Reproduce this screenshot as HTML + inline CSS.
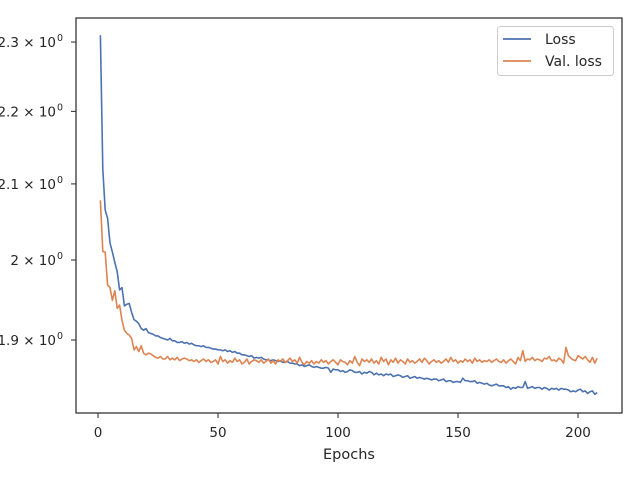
<!DOCTYPE html>
<html><head><meta charset="utf-8"><style>
html,body{margin:0;padding:0;background:#fff;}
svg{display:block;font-family:"DejaVu Sans","Liberation Sans",sans-serif;}
</style></head><body>
<svg id="chart" width="640" height="480" viewBox="0 0 640 480">
<rect x="0" y="0" width="640" height="480" fill="#fff"/>
<g id="plot"></g>
<rect x="76" y="18" width="546" height="395" fill="none" stroke="#262626" stroke-width="1.2"/>
<g id="xticks"></g>
<g id="yticks"></g>
<text x="349" y="459" text-anchor="middle" font-size="14.5" fill="#262626">Epochs</text>
<g>
<rect x="497.5" y="26.5" width="116" height="49" rx="3" fill="#fff" fill-opacity="0.8" stroke="#ccc"/>
<g>
<line x1="503" y1="39" x2="531" y2="39" stroke="#4c72b0" stroke-width="1.8"/>
<text x="545" y="44" font-size="14" fill="#262626">Loss</text>
</g>
<g>
<line x1="503" y1="61" x2="531" y2="61" stroke="#dd8452" stroke-width="1.8"/>
<text x="545" y="66" font-size="14" fill="#262626">Val. loss</text>
</g>
</g>
</svg>
<script>
const lossValues=[2.310,2.120,2.065,2.054,2.022,2.010,1.997,1.985,1.962,1.965,
1.942,1.944,1.945,1.934,1.925,1.923,1.920,1.914,1.912,1.914,
1.909,1.908,1.907,1.905,1.905,1.903,1.902,1.901,1.900,1.902,
1.899,1.899,1.897,1.897,1.898,1.896,1.897,1.895,1.896,1.894,
1.893,1.893,1.892,1.893,1.891,1.891,1.890,1.889,1.889,1.888,
1.888,1.887,1.888,1.886,1.887,1.885,1.886,1.884,1.884,1.882,
1.882,1.881,1.880,1.881,1.878,1.879,1.878,1.879,1.877,1.876,
1.876,1.875,1.876,1.875,1.874,1.875,1.873,1.873,1.874,1.872,
1.872,1.871,1.871,1.869,1.870,1.868,1.869,1.870,1.868,1.867,
1.868,1.867,1.866,1.866,1.867,1.866,1.861,1.865,1.864,1.864,
1.862,1.863,1.861,1.862,1.864,1.863,1.861,1.861,1.862,1.859,
1.861,1.860,1.862,1.861,1.858,1.860,1.858,1.859,1.857,1.859,
1.858,1.859,1.856,1.857,1.858,1.857,1.855,1.856,1.857,1.854,
1.855,1.856,1.854,1.855,1.854,1.853,1.854,1.853,1.852,1.853,
1.853,1.851,1.852,1.853,1.850,1.851,1.851,1.849,1.850,1.850,
1.849,1.854,1.851,1.851,1.850,1.850,1.851,1.848,1.849,1.848,
1.847,1.848,1.846,1.845,1.846,1.847,1.845,1.845,1.845,1.843,
1.844,1.841,1.843,1.842,1.844,1.843,1.843,1.850,1.842,1.843,
1.844,1.842,1.843,1.843,1.841,1.843,1.842,1.840,1.842,1.841,
1.842,1.840,1.842,1.841,1.841,1.840,1.838,1.839,1.838,1.840,
1.841,1.838,1.839,1.836,1.838,1.839,1.835,1.837];
const valLossValues=[2.078,2.011,2.010,1.968,1.965,1.949,1.961,1.939,1.943,1.924,
1.912,1.908,1.906,1.902,1.888,1.892,1.886,1.893,1.884,1.882,
1.884,1.883,1.881,1.879,1.878,1.880,1.877,1.877,1.880,1.876,
1.878,1.876,1.879,1.875,1.877,1.878,1.877,1.875,1.876,1.874,
1.876,1.873,1.875,1.877,1.874,1.876,1.873,1.874,1.876,1.871,
1.880,1.874,1.876,1.872,1.875,1.873,1.878,1.874,1.876,1.871,
1.873,1.877,1.871,1.874,1.876,1.875,1.873,1.876,1.872,1.874,
1.877,1.872,1.875,1.871,1.876,1.874,1.877,1.873,1.875,1.878,
1.874,1.876,1.872,1.879,1.873,1.870,1.874,1.872,1.875,1.871,
1.874,1.872,1.876,1.873,1.875,1.871,1.874,1.876,1.873,1.870,
1.876,1.874,1.873,1.870,1.875,1.872,1.880,1.873,1.869,1.877,
1.874,1.876,1.873,1.877,1.872,1.875,1.871,1.879,1.874,1.877,
1.870,1.876,1.873,1.878,1.872,1.876,1.874,1.871,1.877,1.873,
1.875,1.872,1.874,1.877,1.873,1.878,1.875,1.871,1.874,1.876,
1.873,1.875,1.872,1.874,1.877,1.873,1.879,1.874,1.876,1.872,
1.875,1.873,1.877,1.874,1.876,1.872,1.878,1.874,1.876,1.873,
1.875,1.874,1.876,1.873,1.875,1.877,1.874,1.873,1.876,1.872,
1.875,1.877,1.874,1.871,1.879,1.875,1.887,1.874,1.877,1.876,
1.879,1.875,1.877,1.876,1.874,1.878,1.877,1.880,1.875,1.876,
1.874,1.878,1.876,1.872,1.891,1.881,1.878,1.876,1.875,1.881,
1.879,1.877,1.880,1.876,1.873,1.879,1.872,1.878];
const xTickValues=[0,50,100,150,200];
const yTickValues=[1.9,2.0,2.1,2.2,2.3];
const yTickMantissas=["1.9","2","2.1","2.2","2.3"];

const NS="http://www.w3.org/2000/svg";
function xScale(e){return 98+e*2.4;}
function yScale(v){return 340-(Math.log10(v)-Math.log10(1.9))*3591;}
function mk(tag,attrs,parent){const el=document.createElementNS(NS,tag);for(const k in attrs)el.setAttribute(k,attrs[k]);parent.appendChild(el);return el;}

const plot=document.getElementById('plot');
function drawSeries(vals,color,name){
  const pts=vals.map((v,i)=>xScale(i+1).toFixed(2)+','+yScale(v).toFixed(2)).join(' ');
  const pl=mk('polyline',{points:pts,fill:'none',stroke:color,'stroke-width':1.6,'stroke-linejoin':'round'},plot);
  
  
}
drawSeries(lossValues,'#4c72b0','loss-line');
drawSeries(valLossValues,'#dd8452','val-loss-line');

const xg=document.getElementById('xticks');
xTickValues.forEach(t=>{
  const x=xScale(t);
  const ln=mk('line',{x1:x,y1:413,x2:x,y2:418,stroke:'#262626','stroke-width':1},xg);
  
  
  const tx=mk('text',{x:x,y:437,'text-anchor':'middle','font-size':13.5,fill:'#262626'},xg);
  tx.textContent=String(t);
  
  
});
const yg=document.getElementById('yticks');
yTickValues.forEach((v,i)=>{
  const y=yScale(v);
  const ln=mk('line',{x1:71,y1:y,x2:76,y2:y,stroke:'#262626','stroke-width':1},yg);
  
  
  const tx=mk('text',{x:56,y:y+5,'text-anchor':'end','font-size':13.5,fill:'#262626'},yg);
  tx.textContent=yTickMantissas[i]+' \u00d7 10';
  
  
  const sp=mk('text',{x:57,y:y-1,'font-size':9.5,fill:'#262626'},yg);
  sp.textContent='0';
  
  
});
</script>
</body></html>
